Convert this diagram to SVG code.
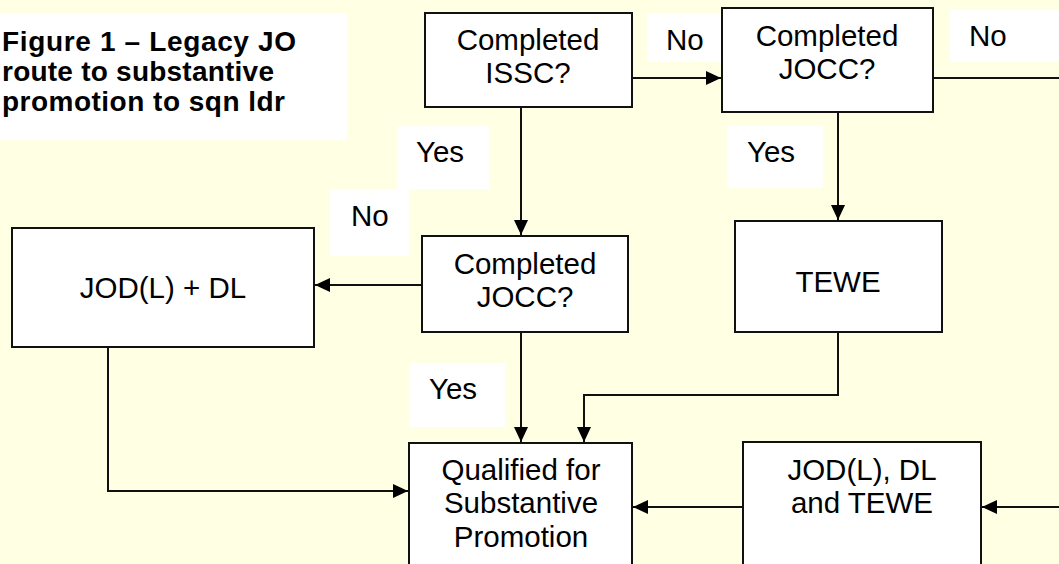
<svg xmlns="http://www.w3.org/2000/svg" width="1059" height="564" viewBox="0 0 1059 564">
<style>
.bg{fill:#FFFFE3}
.box{fill:#fff;stroke:#111;stroke-width:2}
.lbl{fill:#fff}
.t{font-family:"Liberation Sans",Arial,sans-serif;font-size:29.5px;fill:#000}
.c{text-anchor:middle}
.title{font-family:"Liberation Sans",Arial,sans-serif;font-size:28px;font-weight:bold;fill:#000}
.ln{fill:none;stroke:#111;stroke-width:2}
.arr{marker-end:url(#ah)}
</style>
<defs>
<marker id="ah" markerUnits="userSpaceOnUse" markerWidth="16" markerHeight="14" refX="15" refY="7" orient="auto">
<path d="M0,0 L15,7 L0,14 z" fill="#000"/>
</marker>
</defs>
<rect class="bg" x="0" y="0" width="1059" height="564"/>

<g id="title">
<rect class="lbl" x="0" y="13" width="347" height="127"/>
<text class="title" x="2" y="51" textLength="294" lengthAdjust="spacing">Figure 1 – Legacy JO</text>
<text class="title" x="2" y="81" textLength="272" lengthAdjust="spacing">route to substantive</text>
<text class="title" x="2" y="111" textLength="283" lengthAdjust="spacing">promotion to sqn ldr</text>
</g>

<g id="labels">
<g id="lbl-no1"><rect class="lbl" x="647" y="13" width="75" height="49"/><text class="t" x="666" y="50">No</text></g>
<g id="lbl-no2"><rect class="lbl" x="950" y="10" width="110" height="52"/><text class="t" x="969" y="46">No</text></g>
<g id="lbl-yes1"><rect class="lbl" x="397" y="126" width="92" height="63"/><text class="t" x="416" y="162">Yes</text></g>
<g id="lbl-no3"><rect class="lbl" x="330" y="189" width="79" height="67"/><text class="t" x="351" y="226">No</text></g>
<g id="lbl-yes2"><rect class="lbl" x="727" y="126" width="96" height="62"/><text class="t" x="747" y="162">Yes</text></g>
<g id="lbl-yes3"><rect class="lbl" x="409" y="363" width="96" height="64"/><text class="t" x="429" y="399">Yes</text></g>
</g>

<g id="connectors">
<path class="ln arr" d="M632,78 H721"/>
<path class="ln arr" d="M933,78 H1062 V507 H982"/>
<path class="ln arr" d="M521,107 V235"/>
<path class="ln arr" d="M838,112 V220"/>
<path class="ln arr" d="M422,285 H315"/>
<path class="ln arr" d="M521,332 V442"/>
<path class="ln arr" d="M838,332 V395 H584 V442"/>
<path class="ln arr" d="M108,347 V491 H408"/>
<path class="ln arr" d="M743,507 H633"/>
</g>

<g id="n-issc">
<rect class="box" x="425" y="13" width="207" height="94"/>
<text class="t c" x="528" y="50">Completed</text>
<text class="t c" x="528" y="83">ISSC?</text>
</g>
<g id="n-jocc1">
<rect class="box" x="722" y="8" width="211" height="104"/>
<text class="t c" x="827" y="46">Completed</text>
<text class="t c" x="827" y="79">JOCC?</text>
</g>
<g id="n-jocc2">
<rect class="box" x="422" y="236" width="206" height="96"/>
<text class="t c" x="525" y="274">Completed</text>
<text class="t c" x="525" y="307">JOCC?</text>
</g>
<g id="n-jodl">
<rect class="box" x="12" y="228" width="302" height="119"/>
<text class="t c" x="163" y="298">JOD(L) + DL</text>
</g>
<g id="n-tewe">
<rect class="box" x="735" y="221" width="207" height="111"/>
<text class="t c" x="838" y="292">TEWE</text>
</g>
<g id="n-qual">
<rect class="box" x="409" y="443" width="223" height="130"/>
<text class="t c" x="521" y="480">Qualified for</text>
<text class="t c" x="521" y="513">Substantive</text>
<text class="t c" x="521" y="547">Promotion</text>
</g>
<g id="n-jodlt">
<rect class="box" x="743" y="442" width="238" height="131"/>
<text class="t c" x="862" y="480">JOD(L), DL</text>
<text class="t c" x="862" y="513">and TEWE</text>
</g>
</svg>
